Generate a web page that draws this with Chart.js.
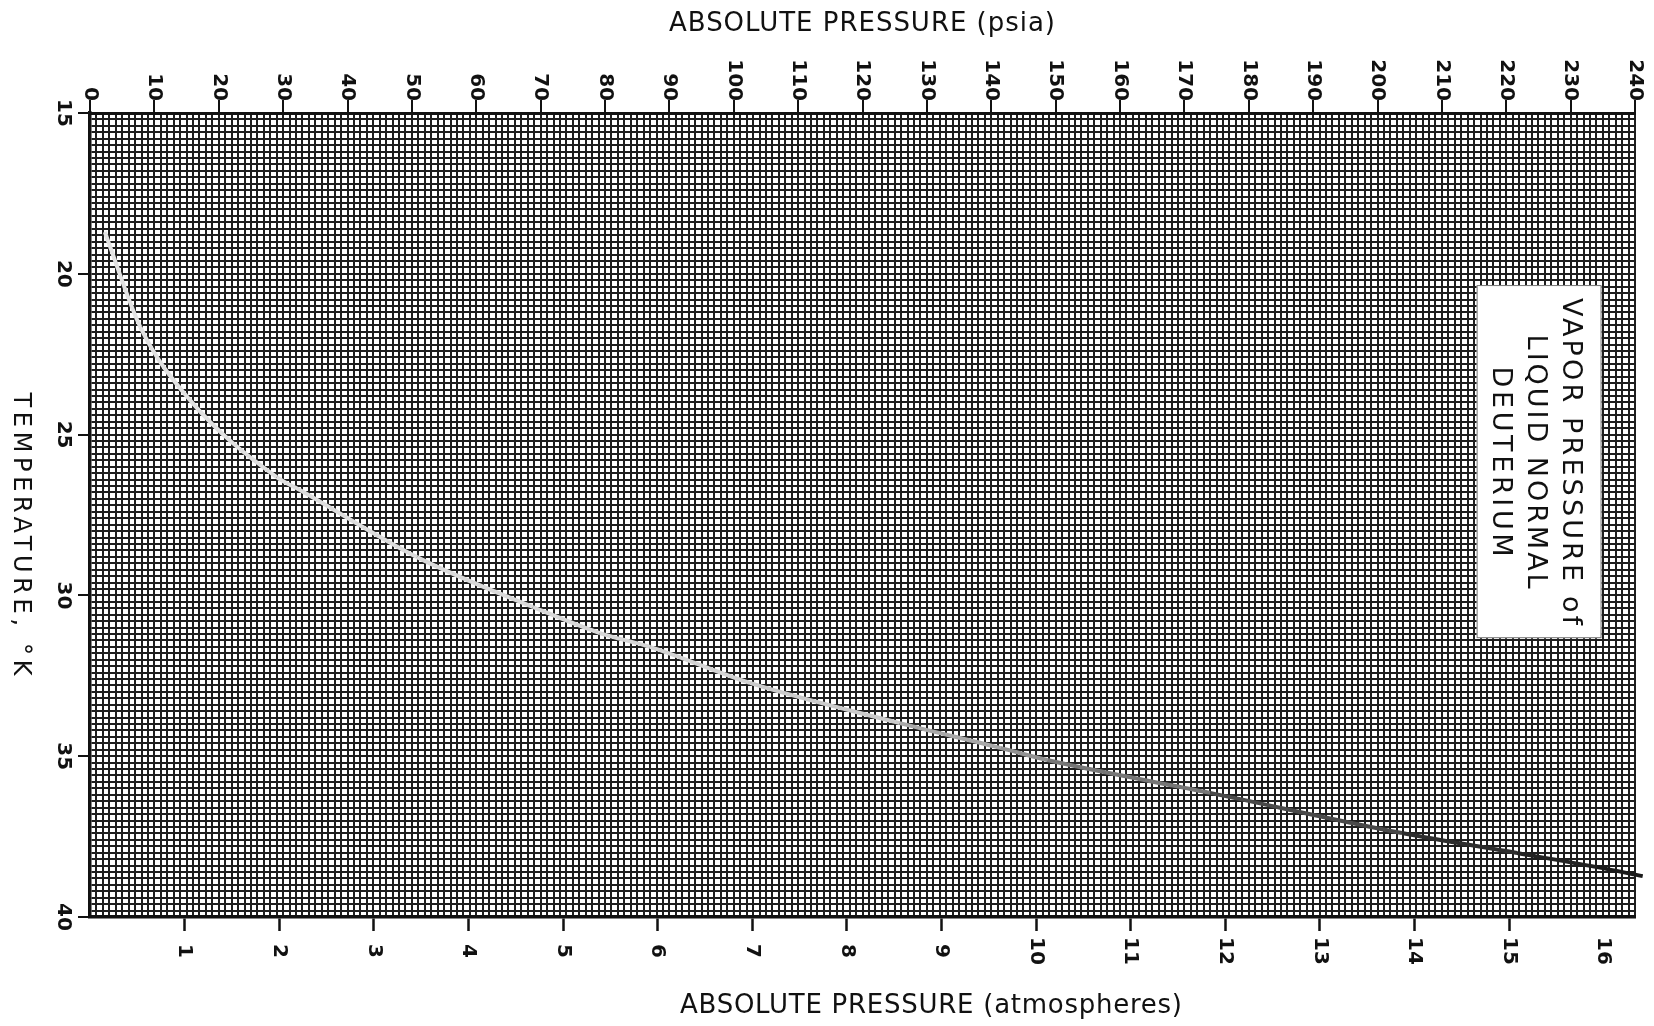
<!DOCTYPE html>
<html><head><meta charset="utf-8">
<script src="https://cdn.jsdelivr.net/npm/chart.js@4.4.1/dist/chart.umd.min.js"></script>
<style>html,body{margin:0;padding:0;background:#fff;overflow:hidden}#wrap{width:1654px;height:1026px;position:relative}</style>
</head><body><div id="wrap"><canvas id="c"></canvas></div>
<script>
// ---- data ----
const pressurePsia = [2.3, 7.8, 15.5, 29.0, 32.6, 50.8, 68.8, 79.2, 87.0, 102.5, 125.8, 141.4, 148.7, 174.0, 203.8, 221.7, 234.1, 241.2];
const temperatureK = [18.70, 21.65, 23.92, 26.32, 26.72, 28.81, 30.36, 31.17, 31.60, 32.72, 33.97, 34.74, 35.12, 36.14, 37.39, 38.01, 38.45, 38.73];
const psiaTicks = [0,10,20,30,40,50,60,70,80,90,100,110,120,130,140,150,160,170,180,190,200,210,220,230,240];
const atmTicks = [1,2,3,4,5,6,7,8,9,10,11,12,13,14,15,16];
const tempTicks = [15,20,25,30,35,40];
const titleTop = 'ABSOLUTE PRESSURE (psia)';
const titleBottom = 'ABSOLUTE PRESSURE (atmospheres)';
const titleLeft = 'TEMPERATURE, \u00B0K';
const boxLines = ['VAPOR PRESSURE of', 'LIQUID NORMAL', 'DEUTERIUM'];
const PSIA_PER_ATM = 14.696;
const psiaMin = 0, psiaMax = 240, tMin = 15, tMax = 40;

const points = pressurePsia.map((p, i) => ({x: p, y: temperatureK[i]}));
const near = (v, m) => Math.abs(v - Math.round(v / m) * m) < 1e-6;
const GRID = '#1e1e1e';
const INK = '#111';

function curveGrey(p) {
  const stops = [[0, 228], [110, 210], [160, 120], [200, 55], [240, 25]];
  for (let i = 1; i < stops.length; i++) {
    if (p <= stops[i][0]) {
      const [a, ga] = stops[i - 1], [b, gb] = stops[i];
      const g = Math.round(ga + (gb - ga) * (p - a) / (b - a));
      return `rgb(${g},${g},${g})`;
    }
  }
  return 'rgb(25,25,25)';
}

function fitSpacing(ctx, text, target) {
  ctx.letterSpacing = '0px';
  const w = ctx.measureText(text).width;
  return Math.max(-1, (target - w) / Math.max(1, text.length - 1));
}
function drawText(ctx, text, x, y, font, target, rotate, align) {
  ctx.save();
  ctx.font = font;
  const sp = target ? fitSpacing(ctx, text, target) : 0;
  ctx.letterSpacing = sp + 'px';
  ctx.translate(x, y);
  if (rotate) ctx.rotate(Math.PI / 2);
  ctx.textAlign = align || 'center';
  ctx.textBaseline = 'middle';
  ctx.fillStyle = INK;
  const off = (align === 'center' || !align) ? sp / 2 : (align === 'right' ? sp : 0);
  ctx.fillText(text, off, 0);
  ctx.restore();
}

const textPlugin = {
  id: 'texts',
  afterDraw(chart) {
    const ctx = chart.ctx, sx = chart.scales.x, sa = chart.scales.xa, sy = chart.scales.y;
    const ca = chart.chartArea;
    const tickFont = 'bold 20px "DejaVu Sans"';
    psiaTicks.forEach(v => drawText(ctx, String(v), sx.getPixelForValue(v), ca.top - 12, tickFont, 0, true, 'right'));
    atmTicks.forEach(v => drawText(ctx, String(v), sa.getPixelForValue(v), ca.bottom + 34, tickFont, 0, true, 'center'));
    tempTicks.forEach(v => drawText(ctx, String(v), ca.left - 27, sy.getPixelForValue(v), tickFont, 0, true, 'center'));
    drawText(ctx, titleTop, 862, 24, '26px "DejaVu Sans"', 386, false, 'center');
    drawText(ctx, titleBottom, 931, 1006, '26px "DejaVu Sans"', 502, false, 'center');
    drawText(ctx, titleLeft, 20, 534, '24px "DejaVu Sans"', 283, true, 'center');
    const bx0 = sx.getPixelForValue(215.4), bx1 = sx.getPixelForValue(234.8);
    const by0 = sy.getPixelForValue(20.35), by1 = sy.getPixelForValue(31.33);
    ctx.save();
    ctx.fillStyle = '#fff';
    ctx.fillRect(bx0, by0, bx1 - bx0, by1 - by0);
    ctx.strokeStyle = '#777';
    ctx.lineWidth = 1;
    ctx.strokeRect(bx0 + 0.5, by0 + 0.5, bx1 - bx0 - 1, by1 - by0 - 1);
    ctx.restore();
    const cy = (by0 + by1) / 2;
    const lineX = [1570, 1535, 1500];
    const lineLen = [327, 254, 190];
    boxLines.forEach((t, i) => drawText(ctx, t, lineX[i], cy, '27px "DejaVu Sans"', lineLen[i], true, 'center'));
  }
};

new Chart(document.getElementById('c'), {
  type: 'line',
  data: {
    datasets: [{
      data: points,
      xAxisID: 'x', yAxisID: 'y',
      borderWidth: 4,
      borderColor: '#ddd',
      segment: { borderColor: c => curveGrey((c.p0.parsed.x + c.p1.parsed.x) / 2) },
      pointRadius: 0,
      cubicInterpolationMode: 'monotone',
      fill: false,
      clip: {left: 5, top: 5, right: 14, bottom: 5}
    }]
  },
  options: {
    responsive: true,
    maintainAspectRatio: false,
    animation: false,
    events: [],
    layout: { padding: { left: 78, top: 100, right: 19, bottom: 95 } },
    plugins: { legend: { display: false }, tooltip: { enabled: false }, title: { display: false } },
    scales: {
      x: {
        type: 'linear', position: 'top', min: psiaMin, max: psiaMax,
        ticks: { display: false, stepSize: 1, autoSkip: false },
        grid: {
          display: true, drawOnChartArea: true, drawTicks: true, tickLength: 13,
          color: GRID, lineWidth: 2,
          tickColor: c => near(c.tick.value, 10) ? INK : 'rgba(0,0,0,0)', tickWidth: 2
        },
        border: { display: true, color: INK, width: 3 }
      },
      xa: {
        type: 'linear', position: 'bottom', min: psiaMin / PSIA_PER_ATM, max: psiaMax / PSIA_PER_ATM,
        ticks: { display: false, stepSize: 1, autoSkip: false },
        grid: {
          display: true, drawOnChartArea: false, drawTicks: true, tickLength: 14,
          tickColor: c => (near(c.tick.value, 1) && c.tick.value > 0) ? INK : 'rgba(0,0,0,0)', tickWidth: 2.5
        },
        border: { display: true, color: INK, width: 3.5 }
      },
      y: {
        type: 'linear', position: 'left', min: tMin, max: tMax, reverse: true,
        ticks: { display: false, stepSize: 0.2, autoSkip: false },
        grid: {
          display: true, drawOnChartArea: true, drawTicks: true, tickLength: 12,
          color: GRID, lineWidth: 2,
          tickColor: c => near(c.tick.value, 5) ? INK : 'rgba(0,0,0,0)', tickWidth: 2
        },
        border: { display: true, color: INK, width: 3.5 }
      }
    }
  },
  plugins: [textPlugin]
});
</script>
</body></html>
